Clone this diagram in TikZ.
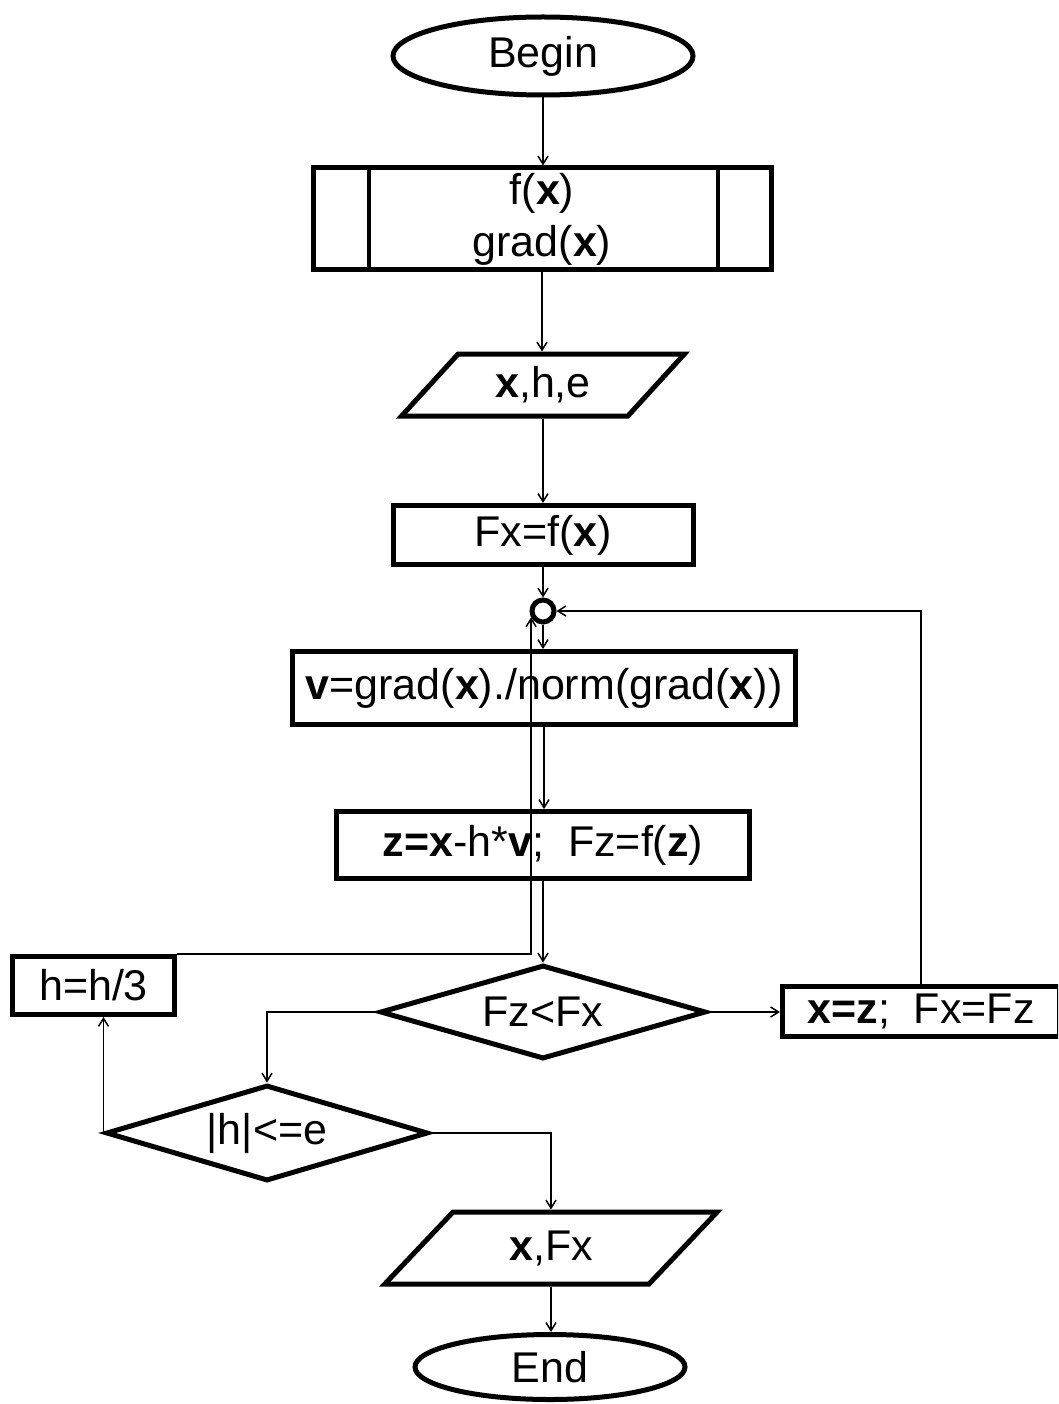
\documentclass[tikz,border=0pt]{standalone}
\usepackage{fontspec}
\setmainfont{Liberation Sans}
\usetikzlibrary{shapes.geometric,arrows.meta}
\begin{document}
\begin{tikzpicture}[x=1pt,y=-1pt,
  every node/.style={font=\fontsize{43}{52}\selectfont, inner sep=0pt},
  blk/.style={draw, line width=5pt, fill=white},
  box/.style={blk, rectangle},
  term/.style={blk, ellipse},
  io/.style={blk, trapezium, trapezium stretches=true},
  cond/.style={blk, diamond, aspect=3.4},
  conn/.style={line width=1.5pt, -{Straight Barb[length=8pt,width=10pt]}},
]
\clip (0,0) rectangle (1058,1404);
\fill[white] (0,0) rectangle (1058,1404);

\node[term, minimum width=300pt, minimum height=78pt] (begin) at (543,56) {Begin};
\node[box, minimum width=458pt, minimum height=102pt, align=center] (proc) at (542,219) {f(\textbf{x})\\grad(\textbf{x})};
\draw[line width=4pt] ([xshift=58pt]proc.north west) -- ([xshift=58pt]proc.south west);
\draw[line width=4pt] ([xshift=-56pt]proc.north east) -- ([xshift=-56pt]proc.south east);
\node[io, trapezium left angle=49, trapezium right angle=131, minimum width=283pt, minimum height=62pt] (inp) at (543,385) {\textbf{x},h,e};
\node[box, minimum width=300pt, minimum height=59pt] (fx) at (543,535) {Fx=f(\textbf{x})};
\node[draw, circle, line width=5pt, fill=white, minimum size=22pt] (jn) at (543,611) {};
\node[box, minimum width=503pt, minimum height=73pt] (v) at (544,688) {\textbf{v}=grad(\textbf{x})./norm(grad(\textbf{x}))};
\node[box, minimum width=413pt, minimum height=67pt] (z) at (543,845) {\textbf{z=x}-h*\textbf{v};\ \ Fz=f(\textbf{z})};
\node[cond, minimum width=326pt, minimum height=94pt] (c1) at (543,1012) {Fz<Fx};
\node[box, minimum width=162pt, minimum height=58pt] (hb) at (93.5,985.5) {h=h/3};
\node[box, minimum width=277pt, minimum height=50pt] (xz) at (921,1011.5) {\textbf{x=z};\ \ Fx=Fz};
\node[cond, minimum width=322pt, minimum height=96pt] (c2) at (267,1133) {|h|<=e};
\node[io, trapezium left angle=50.3, trapezium right angle=129.7, minimum width=333pt, minimum height=72pt] (out) at (551,1248) {\textbf{x},Fx};
\node[term, minimum width=270pt, minimum height=65pt] (end) at (550,1367) {End};

\draw[conn] (begin.south) -- (begin.south |- proc.north);
\draw[conn] (proc.south) -- (proc.south |- inp.north);
\draw[conn] (inp.south) -- (inp.south |- fx.north);
\draw[conn] (fx.south) -- (fx.south |- jn.north);
\draw[conn] (jn.south) -- (jn.south |- v.north);
\draw[conn] (v.south) -- (v.south |- z.north);
\draw[conn] (z.south) -- (z.south |- c1.north);
\draw[conn] (c1.west) -| (c2.north);
\draw[conn] (c1.east) -- (c1.east -| xz.west);
\draw[conn] (xz.north) |- (jn.east);
\draw[conn] (c2.west) -- (c2.west |- hb.south);
\draw[conn] (hb.north east) -| (jn.208);
\draw[conn] (c2.east) -| (out.north);
\draw[conn] (out.south) -- (out.south |- end.north);
\end{tikzpicture}
\end{document}
